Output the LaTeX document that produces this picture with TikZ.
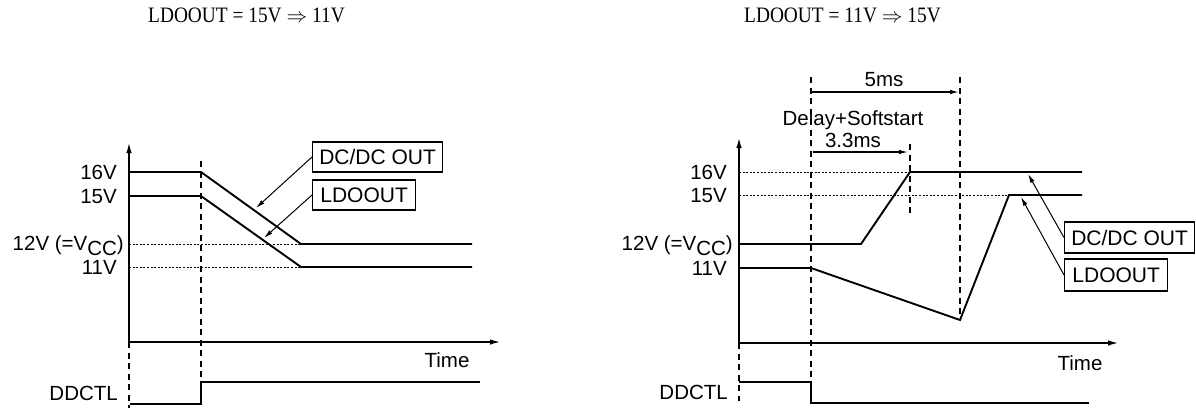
\documentclass[tikz,border=0pt]{standalone}
\usepackage{fontspec}
\setmainfont{Liberation Serif}
\newfontfamily\titlef[FakeStretch=0.88]{Liberation Serif}
\newfontfamily\arialf{Liberation Sans}
\usetikzlibrary{arrows.meta}
\begin{document}
\begin{tikzpicture}[x=1pt,y=-1pt,
  sig/.style={line width=1.9pt, line join=miter},
  axis/.style={line width=1.3pt, -{Latex[length=10pt,width=5.5pt]}},
  vdash/.style={line width=1.1pt, dash pattern=on 6pt off 4.5pt},
  dotl/.style={line width=1pt, dash pattern=on 2pt off 1.6pt},
  lbl/.style={font=\arialf\fontsize{20.5}{24}\selectfont, inner sep=0pt},
  txt/.style={font=\arialf\fontsize{20.5}{24}\selectfont, inner sep=0pt},
  tag/.style={draw, line width=1.3pt, font=\arialf\fontsize{21}{24}\selectfont, inner sep=0pt, anchor=west},
  pointer/.style={line width=1pt, -{Latex[length=9pt,width=4.5pt]}},
  ttl/.style={font=\titlef\fontsize{22}{26}\selectfont, inner sep=0pt, anchor=base west}
]
\useasboundingbox (0,0) rectangle (1196,408);

% ---------------- titles
\node[ttl] (t1) at (148,22) {LDOOUT = 15V $\Rightarrow$ 11V};
\node[ttl] (t2) at (744,22) {LDOOUT = 11V $\Rightarrow$ 15V};

% ================= LEFT PANEL
\coordinate (Lo) at (129,342);
\coordinate (Ltop) at (129,143);
\coordinate (Lend) at (500,342);
\draw[axis] (Lo) -- (Ltop);
\draw[axis] (Lo) -- (Lend);
\coordinate (Lbot) at (129,408);
\draw[vdash] (Lo) -- (Lbot);
\coordinate (Lv1t) at (201,161);
\coordinate (Lv1b) at (201,383);
\draw[vdash] (Lv1t) -- (Lv1b);

% dotted references
\coordinate (Ld12a) at (129,244); \coordinate (Ld12b) at (301,244);
\coordinate (Ld11a) at (129,267); \coordinate (Ld11b) at (301,267);
\draw[dotl] (Ld12a) -- (Ld12b);
\draw[dotl] (Ld11a) -- (Ld11b);

% signals
\coordinate (La1) at (129,172); \coordinate (La2) at (201,172);
\coordinate (La3) at (301,244); \coordinate (La4) at (472,244);
\draw[sig] (La1) -- (La2) -- (La3) -- (La4);
\coordinate (Lb1) at (129,196); \coordinate (Lb2) at (201,196);
\coordinate (Lb3) at (301,267); \coordinate (Lb4) at (472,267);
\draw[sig] (Lb1) -- (Lb2) -- (Lb3) -- (Lb4);

% DDCTL
\coordinate (Lc1) at (130,404); \coordinate (Lc2) at (201,404);
\coordinate (Lc3) at (201,382); \coordinate (Lc4) at (480,382);
\draw[sig] (Lc1) -- (Lc2) -- (Lc3) -- (Lc4);

% labels
\node[lbl, anchor=base east] (L16) at (117,179) {16V};
\node[lbl, anchor=base east] (L15) at (117,203) {15V};
\node[lbl, anchor=base east] (L12) at (124,250) {12V (=V\raisebox{-5pt}{CC})};
\node[lbl, anchor=base east] (L11) at (117,274) {11V};
\node[txt, anchor=base east] (Lddc) at (118,400) {DDCTL};
\node[txt] (Ltime) at (447,360) {Time};

% tags
\node[tag, minimum width=130pt, minimum height=30pt] (LtagA) at (312,157) {DC/DC OUT};
\node[tag, minimum width=103pt, minimum height=30pt] (LtagB) at (312,195) {LDOOUT};
\coordinate (LpA) at (256,208);
\coordinate (LpB) at (264,238);
\draw[pointer] (LtagA.west) -- (LpA);
\draw[pointer] (LtagB.west) -- (LpB);

% ================= RIGHT PANEL
\coordinate (Ro) at (739,343);
\coordinate (Rtop) at (739,138);
\coordinate (Rend) at (1118,343);
\draw[axis] (Ro) -- (Rtop);
\draw[axis] (Ro) -- (Rend);
\coordinate (Rbot) at (739,401);
\draw[vdash] (Ro) -- (Rbot);
\coordinate (Rv1t) at (811,77); \coordinate (Rv1b) at (811,382);
\draw[vdash] (Rv1t) -- (Rv1b);
\coordinate (Rv2t) at (910,144); \coordinate (Rv2b) at (910,216);
\draw[vdash] (Rv2t) -- (Rv2b);
\coordinate (Rv3t) at (960,77); \coordinate (Rv3b) at (960,320);
\draw[vdash] (Rv3t) -- (Rv3b);

% dotted
\coordinate (Rd16a) at (739,172); \coordinate (Rd16b) at (910,172);
\coordinate (Rd15a) at (739,195); \coordinate (Rd15b) at (1009,195);
\draw[dotl] (Rd16a) -- (Rd16b);
\draw[dotl] (Rd15a) -- (Rd15b);

% signals
\coordinate (Ra1) at (739,244); \coordinate (Ra2) at (861,244);
\coordinate (Ra3) at (910,172); \coordinate (Ra4) at (1082,172);
\draw[sig] (Ra1) -- (Ra2) -- (Ra3) -- (Ra4);
\coordinate (Rb1) at (739,268); \coordinate (Rb2) at (811,268);
\coordinate (Rb3) at (960,320); \coordinate (Rb4) at (1009,195);
\coordinate (Rb5) at (1082,195);
\draw[sig] (Rb1) -- (Rb2) -- (Rb3) -- (Rb4) -- (Rb5);

% DDCTL
\coordinate (Rc1) at (739,382); \coordinate (Rc2) at (811,382);
\coordinate (Rc3) at (811,403); \coordinate (Rc4) at (1089,403);
\draw[sig] (Rc1) -- (Rc2) -- (Rc3) -- (Rc4);

% timing arrows
\coordinate (Rt5a) at (812,92); \coordinate (Rt5b) at (959,92);
\draw[pointer, line width=1.3pt] (Rt5a) -- (Rt5b);
\coordinate (Rt3a) at (813,152); \coordinate (Rt3b) at (908,152);
\draw[pointer, line width=1.3pt] (Rt3a) -- (Rt3b);
\node[txt] (R5ms) at (884,80) {5ms};
\node[txt] (Rdel) at (853,120) {Delay+Softstart};
\node[txt] (R33) at (853,140) {3.3ms};

% labels
\node[lbl, anchor=base east] (R16) at (727,179) {16V};
\node[lbl, anchor=base east] (R15) at (727,202) {15V};
\node[lbl, anchor=base east] (R12) at (733,250) {12V (=V\raisebox{-5pt}{CC})};
\node[lbl, anchor=base east] (R11) at (727,275) {11V};
\node[txt, anchor=base east] (Rddc) at (728,399) {DDCTL};
\node[txt] (Rtime) at (1080,363) {Time};

% tags
\node[tag, minimum width=130pt, minimum height=31pt] (RtagA) at (1064,237.5) {DC/DC OUT};
\node[tag, minimum width=103pt, minimum height=32pt] (RtagB) at (1064,275) {LDOOUT};
\coordinate (RpA) at (1028,174);
\coordinate (RpB) at (1021,197);
\draw[pointer] (RtagA.west) -- (RpA);
\draw[pointer] (RtagB.west) -- (RpB);
\end{tikzpicture}
\end{document}
